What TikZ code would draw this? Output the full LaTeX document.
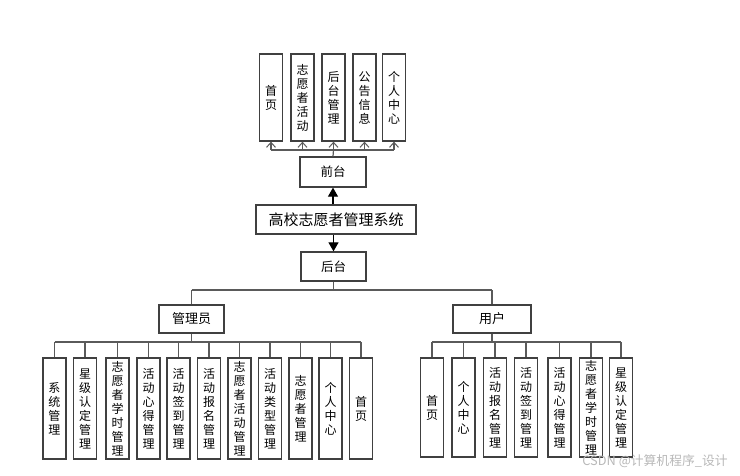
\documentclass[tikz,border=0pt]{standalone}
\usepackage{fontspec}
\setmainfont{Noto Sans CJK SC}
\usetikzlibrary{arrows.meta}
\definecolor{boxc}{HTML}{404040}
\definecolor{linec}{HTML}{5A5A5A}
\tikzset{
  hbox/.style={draw=boxc, line width=1.3pt, fill=white, inner sep=0pt, font=\fontsize{12.5}{14}\selectfont},
  vbox/.style={draw=boxc, line width=1.3pt, fill=white, inner sep=0pt, align=center,
    minimum width=23pt, font=\fontsize{12}{14}\selectfont},
  conn/.style={draw=linec, line width=1.2pt},
  openarr/.style={conn, -{Straight Barb[length=5pt,width=9pt,line width=1pt]}},
  fillarr/.style={draw=black, line width=1.2pt, -{Triangle[length=9pt,width=10pt]}}
}
\begin{document}
\begin{tikzpicture}[x=1pt,y=-1pt]
\useasboundingbox (0,0) rectangle (740,475);
% top
\foreach \n/\x/\t in {t1/271/首\\页, t2/302.5/志\\愿\\者\\活\\动, t3/333.5/后\\台\\管\\理, t4/364.5/公\\告\\信\\息, t5/394/个\\人\\中\\心}{
  \node[vbox, minimum height=87pt] (\n) at (\x,97.5) {\t};
}
\node[hbox, minimum width=66pt, minimum height=30pt] (qt) at (333,172) {前台};
\node[hbox, minimum width=160pt, minimum height=29pt, font=\fontsize{15}{17}\selectfont] (sys) at (336,219.5) {高校志愿者管理系统};
\node[hbox, minimum width=65pt, minimum height=29pt] (ht) at (333.5,266.5) {后台};
\node[hbox, minimum width=65pt, minimum height=28pt, font=\fontsize{13}{15}\selectfont] (adm) at (191.5,319) {管理员};
\node[hbox, minimum width=78pt, minimum height=28pt, font=\fontsize{13}{15}\selectfont] (usr) at (492,319) {用户};
% admin children
\foreach \n/\x/\t in {a1/54.5/系\\统\\管\\理, a2/85/星\\级\\认\\定\\管\\理, a3/117.5/志\\愿\\者\\学\\时\\管\\理,
  a4/148.5/活\\动\\心\\得\\管\\理, a5/178.5/活\\动\\签\\到\\管\\理, a6/209/活\\动\\报\\名\\管\\理,
  a7/239.5/志\\愿\\者\\活\\动\\管\\理, a8/270/活\\动\\类\\型\\管\\理, a9/300.5/志\\愿\\者\\管\\理,
  a10/330.5/个\\人\\中\\心, a11/361/首\\页}{
  \node[vbox, minimum height=101pt] (\n) at (\x,408.5) {\t};
}
\foreach \n/\x/\t in {u1/432/首\\页, u2/463.5/个\\人\\中\\心, u3/495/活\\动\\报\\名\\管\\理,
  u4/526/活\\动\\签\\到\\管\\理, u5/559.5/活\\动\\心\\得\\管\\理, u6/591/志\\愿\\者\\学\\时\\管\\理,
  u7/621/星\\级\\认\\定\\管\\理}{
  \node[vbox, minimum height=99pt] (\n) at (\x,407.5) {\t};
}
% top connectors
\coordinate (tb) at (333.5,150);
\draw[conn] (qt.north) -- (tb);
\draw[conn] (t1.south |- tb) -- (t5.south |- tb);
\foreach \n in {t1,t2,t3,t4,t5}{
  \draw[openarr] (\n.south |- tb) -- (\n.south);
}
\draw[fillarr] (sys.north -| qt.south) -- (qt.south);
\draw[fillarr] (sys.south -| ht.north) -- (ht.north);
% back end
\coordinate (hb) at (333.5,290);
\draw[conn] (ht.south) -- (hb);
\draw[conn] (adm.north |- hb) -- (usr.north |- hb);
\draw[conn] (adm.north |- hb) -- (adm.north);
\draw[conn] (usr.north |- hb) -- (usr.north);
% admin bus
\coordinate (ab) at (191.5,342);
\draw[conn] (adm.south) -- (ab);
\draw[conn] (a1.north |- ab) -- (a11.north |- ab);
\foreach \n in {a1,a2,a3,a4,a5,a6,a7,a8,a9,a10,a11}{
  \draw[conn] (\n.north |- ab) -- (\n.north);
}
% user bus
\coordinate (ub) at (492,342);
\draw[conn] (usr.south) -- (ub);
\draw[conn] (u1.north |- ub) -- (u7.north |- ub);
\foreach \n in {u1,u2,u3,u4,u5,u6,u7}{
  \draw[conn] (\n.north |- ub) -- (\n.north);
}
\node[text=black!28, font=\fontsize{12.8}{14}\selectfont, inner sep=0pt] (wm) at (655,461) {CSDN @计算机程序\_设计};
\end{tikzpicture}
\end{document}
